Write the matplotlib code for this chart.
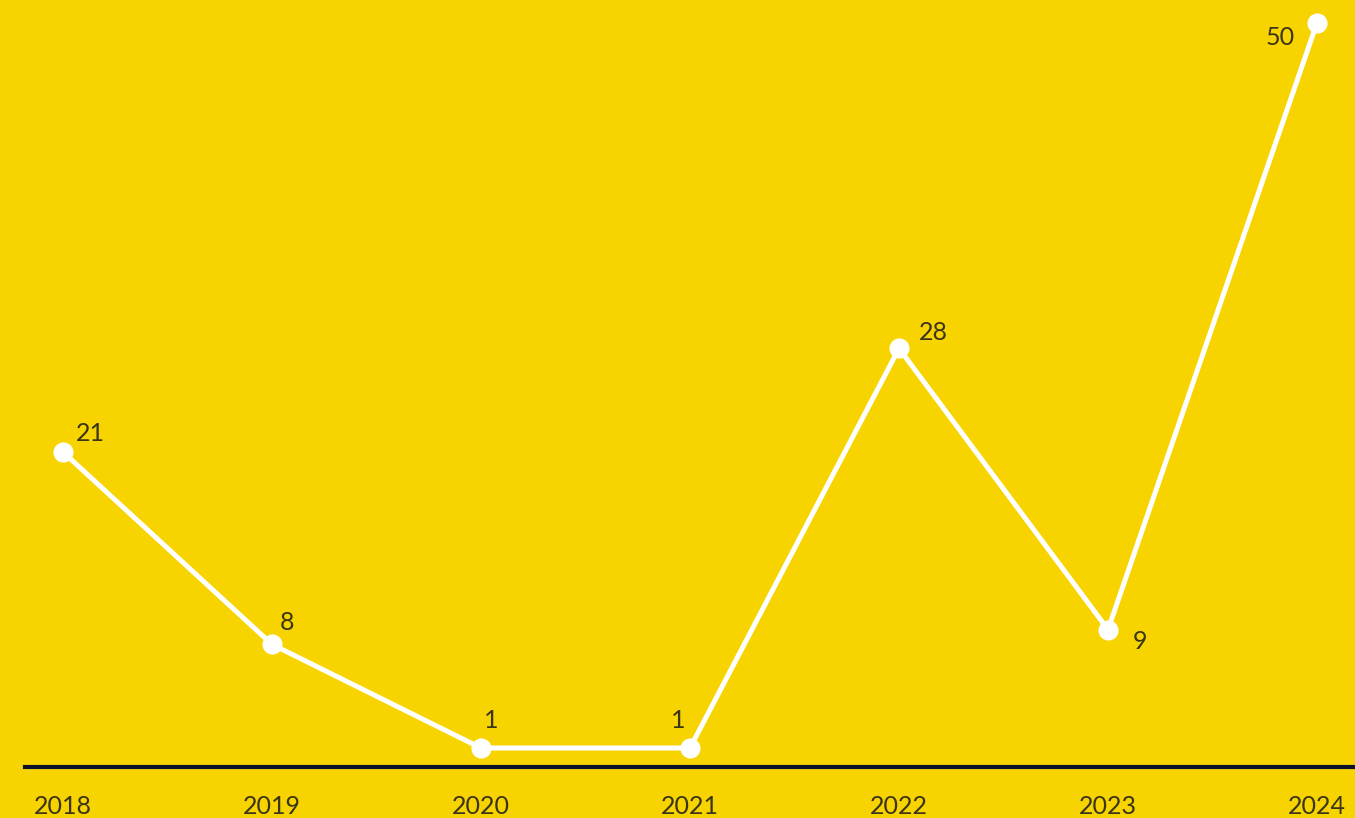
import matplotlib
matplotlib.use('Agg')
import matplotlib.pyplot as plt

anos = [2018, 2019, 2020, 2021, 2022, 2023, 2024]
valores = [21, 8, 1, 1, 28, 9, 50]
# deslocamento dos rótulos em pixels (dx, dy)
desloc = [(27, 18), (15, 22), (10, 27), (-12, 27), (34, 16), (32, -12), (-37, -15)]

fundo = '#F7D300'
cor_texto = '#3a3418'
plt.rcParams['font.family'] = ['Lato', 'DejaVu Sans']

fig = plt.figure(figsize=(13.55, 8.18), dpi=100, facecolor=fundo)
ax = fig.add_axes([0, 0, 1, 1], facecolor=fundo)

ax.plot(anos, valores, color='white', lw=3.6, marker='o', markersize=13.5,
        markerfacecolor='white', markeredgecolor='white', solid_capstyle='round', zorder=3)

for a, v, (dx, dy) in zip(anos, valores, desloc):
    ax.annotate(str(v), (a, v), xytext=(dx * 0.72, dy * 0.72), textcoords='offset points',
                ha='center', va='center', fontsize=18, color=cor_texto)

ax.set_xlim(2018 - 63 / 209, 2024 + 38 / 209)
ax.set_ylim(-(818 - 762.8) / 14.8, 762.8 / 14.8)

# linha de base
ax.axhline(-(767 - 762.8) / 14.8, xmin=25 / 1355, xmax=1, color='#0a1128', lw=3, zorder=2)

for a in anos:
    ax.text(a, -(806 - 762.8) / 14.8, str(a), ha='center', va='center', fontsize=18,
            color=cor_texto)

ax.axis('off')
fig.savefig('out.png', dpi=100, facecolor=fundo)
